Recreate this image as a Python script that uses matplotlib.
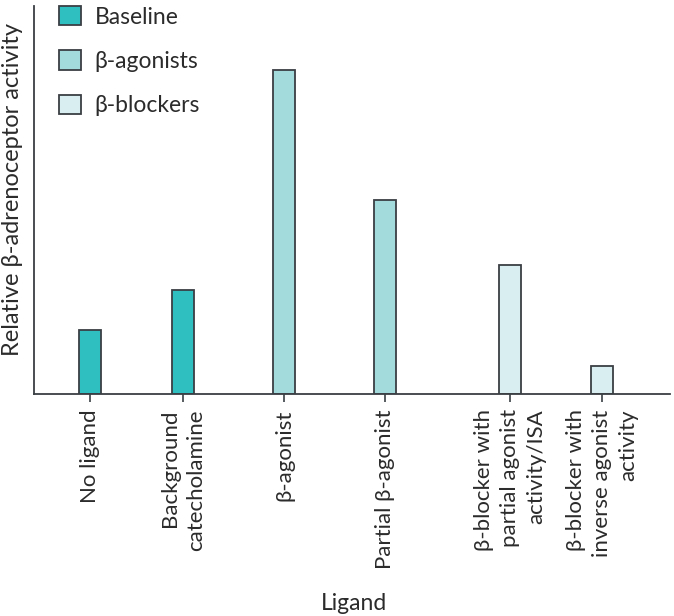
import matplotlib
matplotlib.use("Agg")
import matplotlib.pyplot as plt
from matplotlib.patches import Patch

plt.rcParams['font.family'] = ['Lato', 'DejaVu Sans']

categories = ["No ligand", "Background\ncatecholamine", "\u03b2-agonist",
              "Partial \u03b2-agonist", "\u03b2-blocker with\npartial agonist\nactivity/ISA",
              "\u03b2-blocker with\ninverse agonist\nactivity"]
values = [64, 104, 324, 194, 129, 28]
groups = ["Baseline", "Baseline", "\u03b2-agonists", "\u03b2-agonists", "\u03b2-blockers", "\u03b2-blockers"]
group_names = ["Baseline", "\u03b2-agonists", "\u03b2-blockers"]

positions = [56, 149, 250, 351, 476, 568]
colors = {"Baseline": "#2fbfc1", "\u03b2-agonists": "#a3dbdd", "\u03b2-blockers": "#d9eef1"}
edge = "#3a3f44"
tc = '#2b2b2b'

fig = plt.figure(figsize=(6.74, 6.16), dpi=100)
ax = fig.add_axes([34/674, 1 - 394/616, 636/674, 388/616])

ax.bar(positions, values, width=22, color=[colors[g] for g in groups],
       edgecolor=edge, linewidth=1.3)

ax.set_xlim(0, 636)
ax.set_ylim(0, 388)
ax.set_xticks(positions)
ax.set_xticklabels(categories, rotation=90, ha='center', va='top',
                   multialignment='right', fontsize=16, color=tc, linespacing=1.38)
ax.set_yticks([])
ax.tick_params(axis='x', length=6, width=1.2, color=edge, pad=5)
for s in ['top', 'right']:
    ax.spines[s].set_visible(False)
for s in ['left', 'bottom']:
    ax.spines[s].set_color(edge)
    ax.spines[s].set_linewidth(1.3)

fig.text(354/674, 1 - 603/616, "Ligand", fontsize=16.5, color=tc, ha='center', va='center')
ax.set_ylabel("Relative \u03b2-adrenoceptor activity", fontsize=17, color=tc)
ax.yaxis.set_label_coords(-11/636, (394 - 190)/388)

handles = [Patch(facecolor=colors[g], edgecolor=edge, linewidth=1.3, label=g) for g in group_names]
leg = ax.legend(handles=handles, loc='upper left', bbox_to_anchor=(25/636, 1.0),
                frameon=False, fontsize=16.5, handlelength=0.96, handleheight=0.92,
                labelspacing=1.0, handletextpad=0.6, borderaxespad=0, borderpad=0,
                labelcolor=tc)

fig.savefig("out.png", dpi=100)
